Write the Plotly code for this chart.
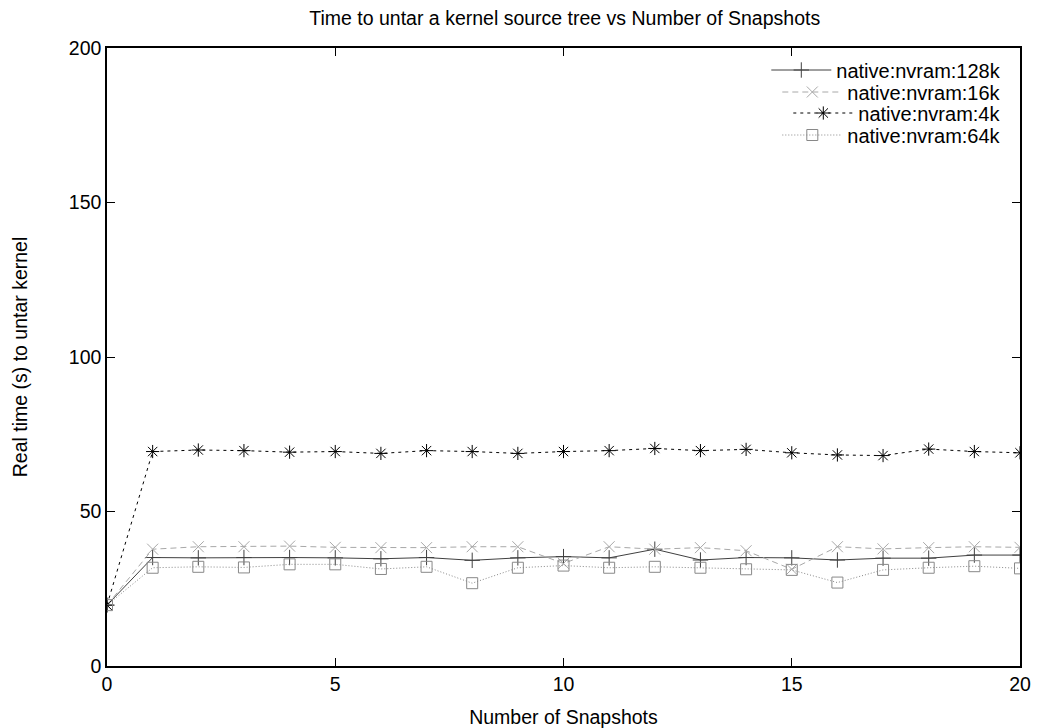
import plotly.graph_objects as go

snapshots = list(range(0, 21))

nvram_128k = [19.7, 35.1, 35.0, 35.1, 35.1, 35.0, 34.7, 35.1, 34.2, 35.0, 35.4,
              35.0, 37.8, 34.3, 35.1, 35.0, 34.3, 34.9, 34.9, 35.9, 35.9]
nvram_16k = [19.7, 37.8, 38.6, 38.6, 38.8, 38.4, 38.3, 38.3, 38.6, 38.6, 33.2,
             38.6, 37.8, 38.3, 37.3, 31.3, 38.6, 37.9, 38.3, 38.6, 38.4]
nvram_4k = [19.7, 69.4, 69.9, 69.7, 69.2, 69.4, 68.8, 69.7, 69.4, 68.8, 69.4,
            69.7, 70.4, 69.7, 70.1, 69.0, 68.3, 68.1, 70.2, 69.4, 69.0]
nvram_64k = [19.7, 31.8, 32.1, 31.9, 32.9, 32.9, 31.4, 32.1, 26.8, 31.8, 32.5,
             31.8, 32.1, 31.8, 31.3, 31.1, 27.0, 31.1, 31.8, 32.3, 31.6]

series = [
    ("native:nvram:128k", nvram_128k, "#404040", "solid", "cross-thin-open"),
    ("native:nvram:16k", nvram_16k, "#a8a8a8", "6px,4px", "x-thin-open"),
    ("native:nvram:4k", nvram_4k, "#000000", "3px,4px", "asterisk-open"),
    ("native:nvram:64k", nvram_64k, "#888888", "1px,2px", "square-open"),
]
legend_ids = ["legend", "legend2", "legend3", "legend4"]
legend_y = [0.9644, 0.9288, 0.8948, 0.8592]

font = "Liberation Sans, Arial, Helvetica, sans-serif"
fig = go.Figure()
for (name, vals, color, dash, sym), lid in zip(series, legend_ids):
    fig.add_trace(go.Scatter(
        x=snapshots, y=vals, name=name, mode="lines+markers", legend=lid,
        line=dict(color=color, width=1, dash=dash),
        marker=dict(symbol=sym, size=11, color=color, line=dict(color=color, width=1)),
    ))

legends = {}
for lid, ly in zip(legend_ids, legend_y):
    legends[lid] = dict(x=0.985, xanchor="right", y=ly, yanchor="middle",
                        bgcolor="rgba(255,255,255,0)", borderwidth=0,
                        font=dict(size=20, family=font), itemwidth=60)

fig.update_layout(
    width=1031, height=720,
    margin=dict(l=99, r=19, t=40, b=62, autoexpand=False),
    paper_bgcolor="white", plot_bgcolor="white",
    font=dict(family=font, size=19.5, color="#000"),
    title=dict(text="Time to untar a kernel source tree vs Number of Snapshots",
               x=0.54, xanchor="center", yref="container", y=0.986, yanchor="middle",
               font=dict(size=19.5, family=font, color="#000")),
    showlegend=True,
    **legends,
)
fig.update_xaxes(
    range=[0, 20], tickvals=[0, 5, 10, 15, 20], ticks="inside", ticklen=8,
    tickcolor="#000", showline=True, linecolor="#000", linewidth=1.5, mirror="ticks",
    showgrid=False, zeroline=False, automargin=False,
    title=dict(text="Number of Snapshots", font=dict(size=19.5), standoff=16),
)
fig.update_yaxes(
    range=[0, 200], tickvals=[0, 50, 100, 150, 200], ticks="inside", ticklen=8,
    tickcolor="#000", showline=True, linecolor="#000", linewidth=1.5, mirror="ticks",
    showgrid=False, zeroline=False, automargin=False,
    title=dict(text="Real time (s) to untar kernel", font=dict(size=19.5), standoff=36),
)

fig.write_html("out.html")
